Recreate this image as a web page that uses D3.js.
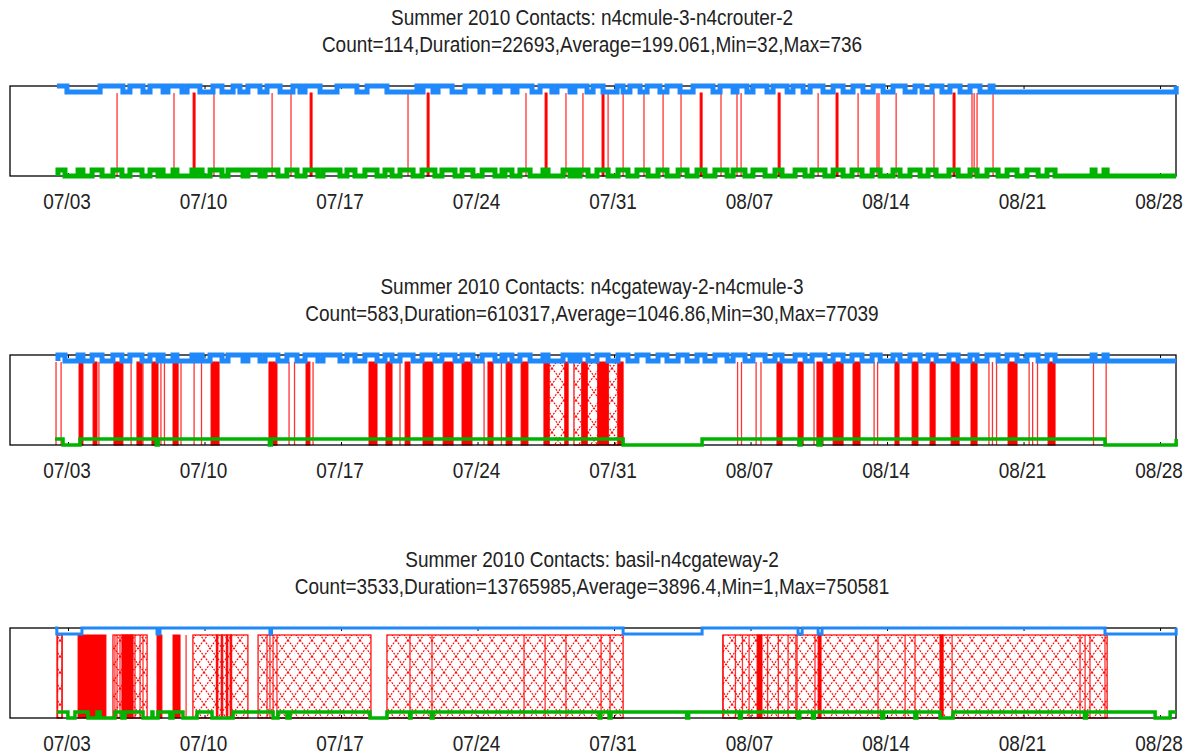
<!DOCTYPE html>
<html>
<head>
<meta charset="utf-8">
<script src="https://cdn.jsdelivr.net/npm/d3@7"></script>
<style>
  html, body { margin: 0; padding: 0; background: #fff; }
  svg { display: block; font-family: "Liberation Sans", Arial, sans-serif; }
</style>
</head>
<body>
<div id="chart"></div>
<script>
// all times are days after 2010-07-03 00:00

const titles = [
  'Summer 2010 Contacts: n4cmule-3-n4crouter-2',
  'Summer 2010 Contacts: n4cgateway-2-n4cmule-3',
  'Summer 2010 Contacts: basil-n4cgateway-2'
];
const stats = [
  'Count=114,Duration=22693,Average=199.061,Min=32,Max=736',
  'Count=583,Duration=610317,Average=1046.86,Min=30,Max=77039',
  'Count=3533,Duration=13765985,Average=3896.4,Min=1,Max=750581'
];

// --- panel 1: n4cmule-3 / n4crouter-2
const p1BlueSpan = [-0.59, 56.8];
const p1BlueDown = [[-0.08,1.62],[2.79,3.15],[3.82,4.18],[4.85,5.10],[5.82,6.08],[6.74,7.41],[7.87,8.44],[8.79,9.20],[9.82,10.18],[10.85,11.51],[11.87,12.13],[12.90,13.77],[14.79,15.31],[16.33,17.87],[18.03,18.18],[18.69,18.95],[19.67,20.33],[21.10,21.26],[21.87,22.13],[22.79,23.0],[23.77,24.18],[24.79,25.05],[25.72,25.97],[26.59,26.9],[27.41,28.13],[28.44,28.79],[29.31,29.67],[30.33,30.69],[31.36,32.03],[33.05,33.41],[34.08,34.28],[34.79,35.1],[35.82,36.13],[36.85,37.15],[37.67,38.03],[38.69,39.21],[39.72,40.23],[40.74,41.26],[41.77,42.28],[42.9,43.41],[43.77,44.28],[44.79,45.2],[45.72,46.23],[46.74,47.26],[47.41,56.8]];
const p1GreenSpan = [-0.54, 56.8];
const p1GreenUp = [[-0.54,-0.18],[0.49,0.74],[1.21,1.72],[2.28,2.74],[3.15,3.77],[4.18,4.59],[4.79,4.85],[5.36,5.56],[6.33,6.49],[6.69,6.85],[7.26,7.87],[8.18,8.95],[9.2,9.82],[10.08,10.74],[11.2,11.72],[12.13,12.79],[13.05,13.92],[14.28,14.69],[15.2,15.82],[16.23,16.59],[17.0,17.67],[18.13,18.79],[19.15,19.82],[20.18,20.74],[21.21,21.87],[22.23,22.28],[22.38,22.74],[23.15,23.67],[24.33,24.59],[25.36,25.72],[25.87,26.08],[26.23,26.64],[27.1,27.67],[28.18,28.69],[29.15,29.72],[30.23,30.69],[31.26,31.72],[32.23,32.64],[33.15,33.77],[34.08,34.69],[35.1,35.72],[36.23,36.59],[37.26,37.77],[38.13,38.79],[39.21,39.72],[40.18,40.69],[41.21,41.62],[42.28,42.64],[43.15,43.67],[44.08,44.49],[45.15,45.62],[46.23,46.59],[47.1,47.67],[48.13,48.64],[49.15,49.72],[50.18,50.59],[52.49,52.64],[53.1,53.26]];
const p1Lines = [2.49,5.41,7.46,10.44,11.41,17.41,23.46,25.51,26.38,27.67,28.44,29.51,30.49,31.41,33.46,34.28,34.49,38.44,40.49,41.46,41.56,42.44,44.38,46.33,46.44,46.59,47.41];
const p1Blocks = [[6.39,6.49],[12.39,12.49],[18.39,18.49],[24.44,24.54],[27.36,27.46],[32.39,32.49],[36.39,36.49],[39.36,39.46],[45.36,45.46]];
const p1Hatch = [];

// --- panel 2: n4cgateway-2 / n4cmule-3
const p2BlueSpan = [-0.54, 56.8];
const p2BlueUp = p1GreenUp;
const p2GreenSpan = [-0.69, 56.8];
const p2GreenDown = [[-0.28,0.59],[4.5,4.6],[10.3,10.4],[28.44,32.49],[37.46,37.56],[38.44,38.59],[53.15,56.8]];
const p2Lines = [-0.64,-0.38,1.56,3.21,3.82,4.74,4.92,5.77,6.44,6.82,11.31,11.59,12.54,17.0,21.31,22.2,34.31,34.51,35.26,35.51,38.23,41.31,41.49,47.2,47.38,47.59,49.26,49.44,49.69,52.56,53.21];
const p2Blocks = [[0.54,0.74],[1.26,1.46],[2.33,2.79],[3.51,3.77],[4.28,4.59],[5.36,5.62],[7.31,7.72],[10.28,10.69],[12.18,12.38],[15.41,15.82],[16.28,16.59],[17.26,17.51],[18.18,18.69],[19.21,19.72],[20.18,20.69],[21.51,21.77],[22.44,22.74],[23.21,23.56],[24.38,24.64],[25.46,25.62],[26.33,26.59],[27.15,27.67],[28.18,28.44],[36.33,36.59],[37.41,37.67],[38.38,38.69],[39.21,39.72],[40.23,40.59],[42.38,42.59],[43.26,43.56],[44.18,44.44],[45.26,45.67],[46.28,46.59],[48.18,48.64],[50.23,50.59]];
const p2Hatch = [[24.64,25.46],[25.92,26.33],[26.59,27.15],[27.67,28.18]];

// --- panel 3: basil / n4cgateway-2
const p3BlueSpan = [-0.69, 56.8];
const p3BlueDown = [[-0.6,0.69],[4.54,4.69],[10.33,10.41],[28.44,32.49],[37.41,37.62],[38.44,38.64],[53.15,56.8]];
const p3GreenSpan = [-0.59, 56.8];
const p3GreenDown = [[-0.03,0.33],[1.0,1.46],[1.62,2.38],[2.74,2.9],[3.82,4.28],[4.33,4.59],[5.2,5.36],[5.87,6.59],[7.36,8.44],[10.49,10.74],[11.2,11.36],[15.46,16.33],[17.49,17.56],[18.6,18.7],[27.2,27.3],[27.72,27.82],[31.7,31.8],[34.4,34.5],[37.4,37.5],[38.15,38.25],[41.7,41.8],[43.4,43.5],[44.69,45.36],[52.1,52.2],[55.72,56.49]];
const p3Lines = [-0.56,-0.33,2.38,2.49,2.64,3.41,3.67,3.82,6.03,10.18,10.33,10.49,10.69,17.51,18.64,23.36,24.44,25.51,27.31,27.77,33.56,34.2,34.56,34.9,35.85,36.4,36.9,37.3,37.36,38.28,41.51,42.9,43.41,45.31,51.87,52.13,52.38,53.15];
const p3Blocks = [[0.49,1.92],[2.74,3.31],[4.54,4.79],[5.36,5.72],[7.58,7.66],[7.83,7.91],[8.09,8.17],[8.29,8.37],[35.31,35.56],[38.44,38.59],[44.69,44.85]];
const p3Hatch = [[-0.59,-0.33],[2.28,4.03],[6.38,9.2],[9.72,15.51],[16.33,28.44],[33.56,53.26]];

const panels = [
  { blue: [p1BlueSpan, 1, p1BlueDown], green: [p1GreenSpan, 0, p1GreenUp], lines: p1Lines, blocks: p1Blocks, hatch: p1Hatch, bw: 5, gw: 5 },
  { blue: [p2BlueSpan, 0, p2BlueUp], green: [p2GreenSpan, 1, p2GreenDown], lines: p2Lines, blocks: p2Blocks, hatch: p2Hatch, bw: 5, gw: 3.5 },
  { blue: [p3BlueSpan, 1, p3BlueDown], green: [p3GreenSpan, 1, p3GreenDown], lines: p3Lines, blocks: p3Blocks, hatch: p3Hatch, bw: 3, gw: 3.5 }
];

const width = 1188, height = 755;
const tops = [86, 355, 628];
const boxH = 90;
const left = 10, right = 1176;
const RED = '#ff0000', BLUE = '#1f88fa', GREEN = '#00b300';

const day0 = new Date(2010, 6, 3);
const toDate = d => new Date(day0.getTime() + d * 864e5);

const x = d3.scaleTime()
  .domain([new Date(2010, 5, 30), new Date(2010, 7, 28, 19)])
  .range([left, right]);
const tickDates = d3.timeSaturday.range(new Date(2010, 6, 3), new Date(2010, 7, 29));

const svg = d3.select('#chart').append('svg')
  .attr('width', width)
  .attr('height', height);

// crosshatch used for long contacts
const defs = svg.append('defs');
const pat = defs.append('pattern')
  .attr('id', 'xhatch')
  .attr('patternUnits', 'userSpaceOnUse')
  .attr('width', 12)
  .attr('height', 16);
pat.append('path')
  .attr('d', 'M0,0L12,16M12,0L0,16')
  .attr('stroke', RED)
  .attr('stroke-width', 1.1)
  .attr('stroke-dasharray', '2,1.2')
  .attr('fill', 'none');

// square wave between two levels; flips are the periods spent on the other level
function steps(span, base, flips) {
  const pts = [[span[0], base]];
  flips.forEach(([a, b]) => {
    a = Math.max(a, span[0]);
    b = Math.min(b, span[1]);
    pts.push([a, base], [a, 1 - base], [b, 1 - base], [b, base]);
  });
  pts.push([span[1], base]);
  return pts;
}

panels.forEach((p, i) => {
  const T = tops[i], B = T + boxH;
  const g = svg.append('g').attr('class', 'panel');

  g.append('text')
    .attr('text-anchor', 'middle')
    .attr('transform', `translate(592,${T - 61}) scale(1,1.2)`)
    .attr('font-size', 19)
    .attr('fill', '#222')
    .text(titles[i]);
  g.append('text')
    .attr('text-anchor', 'middle')
    .attr('transform', `translate(592,${T - 34}) scale(1,1.2)`)
    .attr('font-size', 19)
    .attr('fill', '#222')
    .text(stats[i]);

  // contacts
  const red = g.append('g').attr('class', 'contacts');
  red.selectAll('rect.hatch')
    .data(p.hatch)
    .join('rect')
    .attr('class', 'hatch')
    .attr('x', d => x(toDate(d[0])))
    .attr('width', d => x(toDate(d[1])) - x(toDate(d[0])))
    .attr('y', T + 7)
    .attr('height', B - T - 7)
    .attr('fill', 'url(#xhatch)')
    .attr('stroke', RED)
    .attr('stroke-width', 1.2);
  red.selectAll('rect.block')
    .data(p.blocks)
    .join('rect')
    .attr('class', 'block')
    .attr('x', d => x(toDate(d[0])))
    .attr('width', d => x(toDate(d[1])) - x(toDate(d[0])))
    .attr('y', T + 7)
    .attr('height', B - T - 7)
    .attr('fill', RED)
    .attr('stroke', RED)
    .attr('stroke-width', 1);
  red.selectAll('line')
    .data(p.lines)
    .join('line')
    .attr('x1', d => x(toDate(d)))
    .attr('x2', d => x(toDate(d)))
    .attr('y1', T + 7)
    .attr('y2', B)
    .attr('stroke', RED)
    .attr('stroke-opacity', 0.8)
    .attr('stroke-width', 1.3);

  // frame and inner ticks
  g.append('rect')
    .attr('x', left).attr('y', T)
    .attr('width', right - left).attr('height', boxH)
    .attr('fill', 'none')
    .attr('stroke', '#000')
    .attr('stroke-width', 1.3);
  g.selectAll('path.tick')
    .data(tickDates)
    .join('path')
    .attr('class', 'tick')
    .attr('d', d => `M${x(d)},${T}v3M${x(d)},${B}v-3`)
    .attr('stroke', '#000');

  const axis = g.append('g')
    .attr('transform', `translate(0,${B})`)
    .call(d3.axisBottom(x)
      .tickValues(tickDates)
      .tickFormat(d3.timeFormat('%m/%d'))
      .tickSize(0));
  axis.select('.domain').remove();
  axis.selectAll('text')
    .attr('y', null)
    .attr('dy', null)
    .attr('transform', 'translate(-2,33) scale(1,1.2)')
    .attr('font-size', 19)
    .attr('font-family', '"Liberation Sans", Arial, sans-serif')
    .attr('fill', '#222');

  // node availability traces
  const gy = v => v ? B - 6 : B;
  const by = v => v ? T : T + 6;
  g.append('path')
    .datum(steps(...p.green))
    .attr('d', d3.line().x(d => x(toDate(d[0]))).y(d => gy(d[1])))
    .attr('fill', 'none')
    .attr('stroke', GREEN)
    .attr('stroke-width', p.gw);
  g.append('path')
    .datum(steps(...p.blue))
    .attr('d', d3.line().x(d => x(toDate(d[0]))).y(d => by(d[1])))
    .attr('fill', 'none')
    .attr('stroke', BLUE)
    .attr('stroke-width', p.bw);
});
</script>
</body>
</html>
